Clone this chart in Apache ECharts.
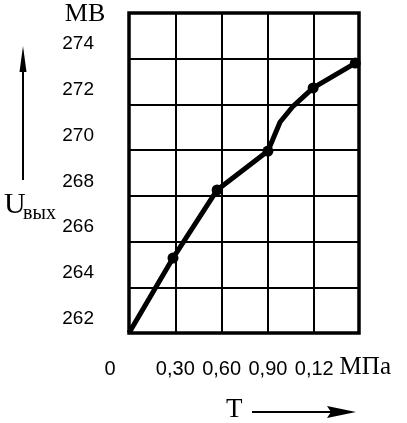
<!DOCTYPE html>
<html>
<head>
<meta charset="utf-8">
<script src="https://cdn.jsdelivr.net/npm/echarts@6/dist/echarts.min.js"></script>
<style>
html,body{margin:0;padding:0;background:#fff;}
#chart{width:407px;height:423px;}
</style>
</head>
<body>
<div id="chart"></div>
<script>
// Curve: pressure T (MPa) vs output voltage U (mV)
const curveT = [0, 0.285, 0.571, 0.90, 0.979, 1.064, 1.193, 1.466];
const curveU = [262, 265.28, 268.26, 269.96, 271.23, 271.93, 272.72, 273.81];
// Marked measurement points
const markT = [0.285, 0.571, 0.90, 1.193, 1.466];
const markU = [265.28, 268.26, 269.96, 272.72, 273.81];
// Tick labels as printed
const xTickValues = [0, 0.3, 0.6, 0.9, 1.2];
const xTickLabels = ['0', '0,30', '0,60', '0,90', '0,12'];
const yTickValues = [262, 264, 266, 268, 270, 272, 274];
const xUnit = 'МПа';
const yUnit = 'МВ';
const xName = 'T';
const yNameMain = 'U';
const yNameSub = 'вых';

const chart = echarts.init(document.getElementById('chart'), null, {renderer: 'canvas'});
const serif = '"Liberation Serif", "DejaVu Serif", serif';
const sans = '"Liberation Sans", Arial, sans-serif';

const option = {
  animation: false,
  backgroundColor: '#fff',
  grid: {
    left: 129, right: 48, top: 13, bottom: 90,
    show: true, borderColor: '#000', borderWidth: 3.5, backgroundColor: 'transparent'
  },
  xAxis: {
    type: 'value', min: 0, max: 1.49, interval: 0.3,
    axisLine: {show: false}, axisTick: {show: false},
    splitLine: {show: true, lineStyle: {color: '#000', width: 2}},
    name: xUnit, nameLocation: 'end', nameGap: -21,
    nameTextStyle: {fontFamily: serif, fontSize: 25, color: '#000', verticalAlign: 'top', align: 'left', padding: [22, 0, 0, 0]},
    axisLabel: {
      showMaxLabel: false, margin: 26, color: '#000', fontFamily: sans, fontSize: 20, lineHeight: 20,
      formatter: function (v) {
        const i = xTickValues.findIndex(t => Math.abs(t - v) < 1e-6);
        if (i < 0) return '';
        return (i === 0 ? '{z|' : '{a|') + xTickLabels[i] + '}';
      },
      rich: {
        a: {fontFamily: sans, fontSize: 20, lineHeight: 20, color: '#000'},
        z: {fontFamily: sans, fontSize: 20, lineHeight: 20, color: '#000', padding: [0, 38, 0, 0]}
      }
    }
  },
  yAxis: {
    type: 'value', min: 262, max: 276, interval: 2,
    axisLine: {show: false}, axisTick: {show: false},
    splitLine: {show: true, lineStyle: {color: '#000', width: 2}},
    name: yUnit, nameLocation: 'end', nameGap: -14,
    nameTextStyle: {fontFamily: serif, fontSize: 26, color: '#000', padding: [0, 88, 0, 0]},
    axisLabel: {
      showMaxLabel: false, margin: 35, color: '#000', fontFamily: sans, fontSize: 19, lineHeight: 19,
      verticalAlign: 'bottom', padding: [0, 0, 5, 0],
      formatter: function (v) {
        return yTickValues.indexOf(v) >= 0 ? String(v) : '';
      }
    }
  },
  graphic: [
    // vertical arrow (U axis direction)
    {type: 'line', shape: {x1: 23, y1: 180, x2: 23, y2: 66}, style: {stroke: '#000', lineWidth: 2}},
    {type: 'polygon', shape: {points: [[23, 46], [26.5, 72], [19.5, 72]]}, style: {fill: '#000'}},
    {type: 'text', left: 4, top: 190, style: {text: yNameMain, font: '30px ' + serif, fill: '#000'}},
    {type: 'text', left: 23, top: 204, style: {text: yNameSub, font: '20px ' + serif, fill: '#000'}},
    // horizontal arrow (T axis direction)
    {type: 'text', left: 226, top: 396, style: {text: xName, font: '27px ' + serif, fill: '#000'}},
    {type: 'line', shape: {x1: 252, y1: 412, x2: 335, y2: 412}, style: {stroke: '#000', lineWidth: 2}},
    {type: 'polygon', shape: {points: [[356, 412], [327, 406], [331, 412], [327, 418]]}, style: {fill: '#000'}}
  ],
  series: [
    {
      type: 'line',
      data: curveT.map((t, i) => [t, curveU[i]]),
      showSymbol: false, symbol: 'none',
      lineStyle: {color: '#000', width: 5, join: 'round'},
      z: 3
    },
    {
      type: 'scatter',
      data: markT.map((t, i) => [t, markU[i]]),
      symbol: 'circle', symbolSize: 11,
      itemStyle: {color: '#000', opacity: 1},
      z: 4
    }
  ]
};
chart.setOption(option);
</script>
</body>
</html>
